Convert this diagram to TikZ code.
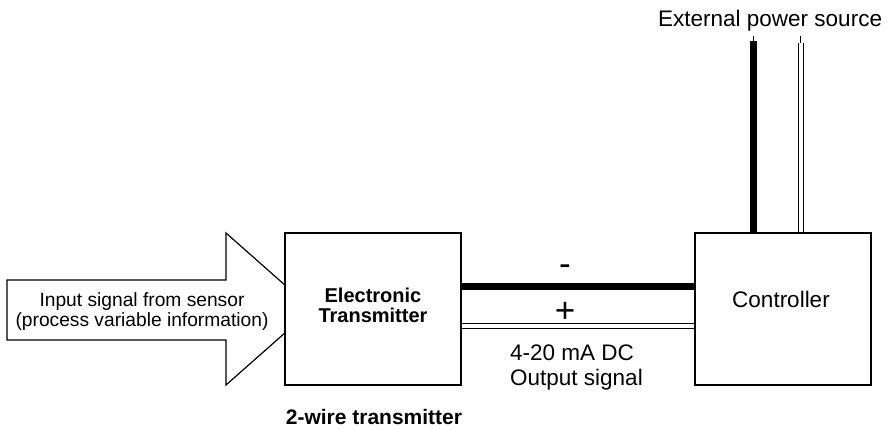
\documentclass[tikz,border=0pt]{standalone}
\usepackage{fontspec}
\setmainfont{Liberation Sans}
\begin{document}
\begin{tikzpicture}[x=1pt,y=-1pt,
  blk/.style={draw=black,line width=1.6pt,fill=white,minimum width=176pt,minimum height=152pt,inner sep=0pt},
  txt/.style={inner sep=0pt,anchor=base,font=\fontsize{22.5}{25}\selectfont},
  smalltxt/.style={inner sep=0pt,anchor=base,font=\fontsize{19.2}{20}\selectfont},
  boldtxt/.style={inner sep=0pt,anchor=base,font=\fontsize{20}{22}\selectfont\bfseries},
  sign/.style={inner sep=0pt,anchor=center,font=\fontsize{35}{35}\selectfont},
  blackwire/.style={line width=6.5pt,draw=black},
  whitewire/.style={draw=black,line width=1pt,double=white,double distance=4pt}]
\useasboundingbox (0,0) rectangle (887,430);
% input arrow
\draw[line width=1.2pt,fill=white,line join=miter] (7,280) -- (226,280) -- (226,233) -- (312,309) -- (226,385) -- (226,340) -- (7,340) -- cycle;
\node[smalltxt] (in1) at (142,307) {Input signal from sensor};
\node[smalltxt] (in2) at (142,327) {(process variable information)};
% blocks
\node[blk] (tx) at (373,309) {};
\node[blk] (ctrl) at (783,309) {};
\node[boldtxt] (tx1) at (373,303) {Electronic};
\node[boldtxt] (tx2) at (373,323) {Transmitter};
\node[txt] (ctl) at (781,308) {Controller};
\node[inner sep=0pt,anchor=base,font=\fontsize{21}{22}\selectfont\bfseries] (lab) at (374,425) {2-wire transmitter};
% loop wires
\coordinate (ym) at (0,286.5);
\coordinate (yp) at (0,326);
\draw[blackwire] (tx.east |- ym) -- (ctrl.west |- ym);
\draw[whitewire] (tx.east |- yp) -- (ctrl.west |- yp);
\node[sign] (minus) at (565,270) {-};
\node[sign] (plus) at (565,312) {+};
\node[txt,anchor=base west] (o1) at (510,361) {4-20 mA DC};
\node[txt,anchor=base west] (o2) at (510,386) {Output signal};
% power wires
\node[txt,anchor=base west] (ext) at (658,27) {External power source};
\coordinate (pa) at (753.5,41);
\coordinate (pb) at (800.5,43);
\coordinate (la) at (753.5,36);
\coordinate (lb) at (800.5,36);
\draw[line width=1pt] (la) -- (pa);
\draw[line width=1pt] (lb) -- (pb);
\draw[blackwire] (pa) -- (pa |- ctrl.north);
\draw[whitewire] (pb) -- (pb |- ctrl.north);
\end{tikzpicture}
\end{document}
